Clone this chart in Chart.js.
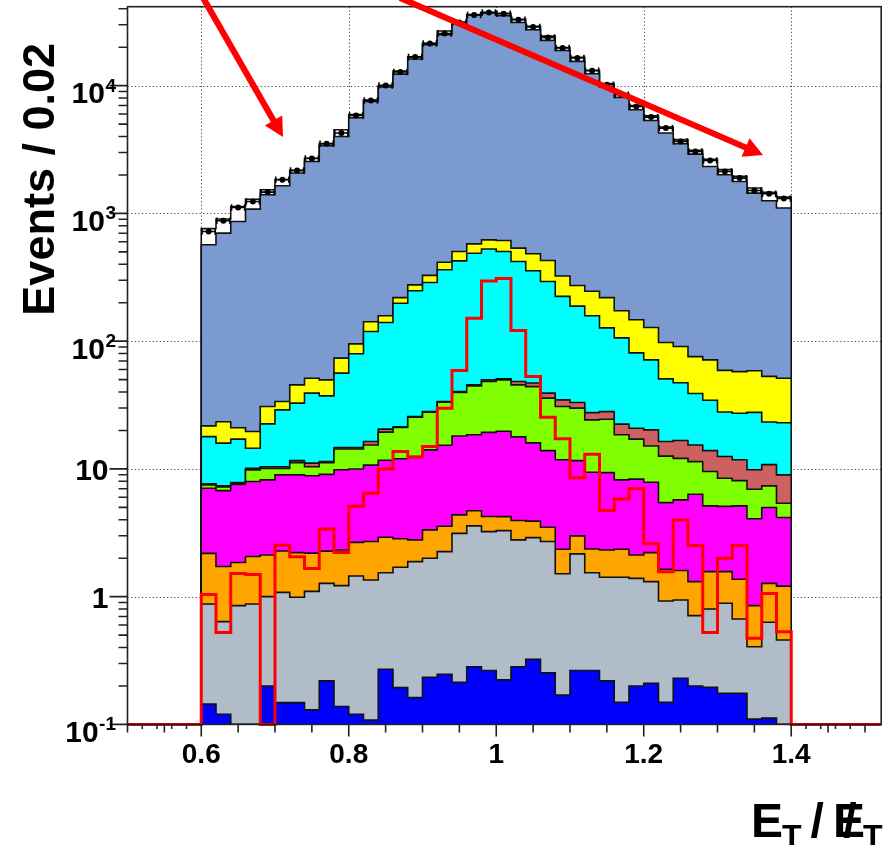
<!DOCTYPE html>
<html><head><meta charset="utf-8">
<script src="https://cdn.jsdelivr.net/npm/chart.js@4.4.1/dist/chart.umd.min.js"></script>
<style>html,body{margin:0;padding:0;background:#fff;}canvas{display:block;}</style>
</head><body>
<canvas id="c" width="888" height="845"></canvas>
<script>
// ---------------- data ----------------
const binEdges = [0.60,0.62,0.64,0.66,0.68,0.70,0.72,0.74,0.76,0.78,0.80,0.82,0.84,0.86,0.88,0.90,0.92,0.94,0.96,0.98,1.00,
                  1.02,1.04,1.06,1.08,1.10,1.12,1.14,1.16,1.18,1.20,1.22,1.24,1.26,1.28,1.30,1.32,1.34,1.36,1.38,1.40];
// cumulative stack tops, bottom layer first
const topBlue    = [0.144,0.120,0,0,0.200,0.148,0.148,0.130,0.219,0.138,0.120,0.108,0.270,0.194,0.162,0.234,0.247,0.214,0.283,0.264,
                    0.223,0.283,0.323,0.254,0.170,0.264,0.264,0.219,0.149,0.200,0.210,0.149,0.230,0.200,0.195,0.175,0.175,0.110,0.112,0];
const topGray    = [0.877,0.637,0.850,0.877,1.00,1.08,0.99,1.10,1.27,1.22,1.45,1.35,1.54,1.70,1.88,2.00,2.25,3.13,3.58,3.23,
                    3.29,2.78,2.90,2.70,1.51,2.16,1.54,1.42,1.42,1.39,1.31,0.925,0.942,0.710,0.801,0.888,0.669,0.405,0.631,0.458];
const topOrange  = [2.18,1.72,1.85,2.06,2.12,2.28,2.21,2.19,2.27,2.32,2.66,2.70,2.92,2.84,2.78,3.33,3.56,4.37,4.70,4.24,
                    4.23,3.95,3.90,3.49,2.35,2.99,2.36,2.32,2.35,2.12,2.21,1.64,1.60,1.31,1.57,1.57,1.37,0.851,1.27,1.21];
const topMagenta = [7.06,6.76,7.56,7.96,8.20,8.98,8.98,8.85,9.06,9.84,9.98,10.7,11.7,12.0,12.5,14.1,15.3,18.1,18.5,19.3,
                    19.7,17.8,16.0,13.9,11.8,11.6,9.42,9.35,8.20,8.31,7.87,5.45,5.72,6.34,5.14,5.09,5.14,4.07,4.99,4.16];
const topGreen   = [7.50,7.23,7.70,9.82,10.1,10.1,11.2,10.4,11.2,14.3,14.3,15.4,19.4,21.1,25.4,27.8,33.3,39.6,44.7,48.3,
                    49.8,45.5,44.1,35.8,30.8,29.9,24.2,24.5,18.5,17.1,15.1,12.6,12.1,11.4,9.53,8.46,8.10,6.93,7.36,5.39];
const topBrown   = [7.63,7.36,7.82,10.1,10.4,10.4,11.6,11.1,11.4,14.7,14.7,16.4,20.5,21.4,25.7,28.1,33.7,40.3,45.5,49.8,
                    50.7,48.3,47.0,39.2,34.7,33.1,27.6,28.1,22.4,20.8,20.2,16.4,16.7,15.4,13.9,12.5,11.8,9.84,10.8,8.98];
const topCyan    = [17.9,15.9,17.1,14.5,22.5,29.0,32.7,39.2,37.3,56.2,79.6,119,140,198,248,288,362,425,487,526,
                    503,420,356,293,224,188,158,127,106,81,71.4,50.7,47.2,38.9,34.5,27.9,27.3,27.7,23.3,23.0];
const topYellow  = [21.7,23.4,21.0,19.6,30.8,33.7,45.5,51.3,49.8,73.6,95.2,142,158,219,276,327,415,503,577,621,
                    614,535,483,428,324,273,246,219,173,147,128,97.5,90.8,75.7,71.4,59.1,57.7,58.7,53.0,51.3];
const topSteel   = [568,701,865,1081,1400,1645,2070,2549,3381,3997,5600,7516,9750,12300,16150,20900,25060,30900,35900,37000,
                    35250,31250,27400,22600,18870,15490,12390,9750,8090,6470,5340,4256,3510,2912,2328,2005,1778,1441,1256,1102];
const topWhite   = [760,905,1130,1290,1530,1840,2170,2700,3520,4520,5950,7700,10000,13000,16800,21500,26800,31500,36000,37600,
                    36800,33000,29200,24400,19900,16700,13200,10400,8600,7000,5800,4750,3780,3120,2650,2200,1950,1580,1460,1340];
const dataCounts = [722,875,1113,1240,1468,1834,2168,2692,3510,4256,5844,7660,10040,12780,16740,21400,25600,31250,35700,37400,
                    36560,32800,28770,23870,19690,16440,13080,10160,8490,6880,5676,4655,3660,3055,2596,2130,1890,1513,1424,1308];
const signal     = [1.04,0.523,1.52,1.49,0,2.53,2.05,1.66,3.39,2.22,5.11,6.46,10.0,13.7,12.4,15.0,29.9,58.9,151,296,
                    309,121,52.8,25.4,17.2,8.51,13.0,4.72,5.80,6.98,2.59,1.57,3.99,2.51,0.523,2.00,2.51,0.472,1.06,0.532];

const xTickVals   = [0.6,0.8,1.0,1.2,1.4];
const xTickLabels = ['0.6','0.8','1','1.2','1.4'];
const xMidTicks   = [0.5,0.55,0.65,0.7,0.75,0.85,0.9,0.95,1.05,1.1,1.15,1.25,1.3,1.35,1.45,1.5];
const xSmallTicks = [0.52,0.54,0.56,0.58,1.42,1.44,1.46,1.48];
const yTickVals   = [0.1,1,10,100,1000,10000];
const yTickBase   = ['10','1','10','10','10','10'];
const yTickExp    = ['-1','','','2','3','4'];
const yTitle = 'Events / 0.02';

const X_MIN = 0.5, X_MAX = 1.522, Y_MIN = 0.1, Y_MAX = 41500;
const FONT = '"Liberation Sans", Arial, Helvetica, sans-serif';

// ---------------- helpers ----------------
function stepPts(vals, outer) {
  const pts = [];
  if (outer) pts.push({x: X_MIN, y: Y_MIN});
  pts.push({x: binEdges[0], y: Y_MIN});
  vals.forEach((v, i) => pts.push({x: binEdges[i], y: v > 0 ? v : Y_MIN}));
  const n = vals.length, last = vals[n - 1] > 0 ? vals[n - 1] : Y_MIN;
  pts.push({x: binEdges[n], y: last});
  pts.push({x: binEdges[n], y: Y_MIN});
  if (outer) pts.push({x: X_MAX, y: Y_MIN});
  return pts;
}
function layer(vals, color) {
  return {type: 'line', data: stepPts(vals, false), stepped: 'before', fill: 'start',
          backgroundColor: color, borderColor: '#111', borderWidth: 1.6, pointRadius: 0};
}
const centers = dataCounts.map((v, i) => ({x: (binEdges[i] + binEdges[i + 1]) / 2, y: v}));

// ---------------- decoration plugin ----------------
const rootStyle = {
  id: 'rootStyle',
  beforeDatasetsDraw(chart) {
    const {ctx, chartArea: a, scales: {x, y}} = chart;
    ctx.save();
    ctx.strokeStyle = '#444'; ctx.lineWidth = 1; ctx.setLineDash([1.2, 2.4]);
    xTickVals.forEach(v => { const p = Math.round(x.getPixelForValue(v)) + 0.5;
      ctx.beginPath(); ctx.moveTo(p, a.top); ctx.lineTo(p, a.bottom); ctx.stroke(); });
    yTickVals.forEach(v => { const p = Math.round(y.getPixelForValue(v)) + 0.5;
      ctx.beginPath(); ctx.moveTo(a.left, p); ctx.lineTo(a.right, p); ctx.stroke(); });
    ctx.restore();
  },
  afterDatasetsDraw(chart) {
    const {ctx, chartArea: a, scales: {x, y}} = chart;
    ctx.save();
    // error bars of data
    ctx.strokeStyle = '#000'; ctx.lineWidth = 1.6;
    dataCounts.forEach((n, i) => {
      const xl = x.getPixelForValue(binEdges[i]), xr = x.getPixelForValue(binEdges[i + 1]);
      const yc = y.getPixelForValue(n), e = Math.sqrt(n);
      const yt = y.getPixelForValue(n + e), yb = y.getPixelForValue(n - e);
      ctx.beginPath();
      ctx.moveTo(xl, yc); ctx.lineTo(xr, yc);
      ctx.moveTo(xl + 0.8, yc - 3.2); ctx.lineTo(xl + 0.8, yc + 3.2);
      ctx.moveTo(xr - 0.8, yc - 3.2); ctx.lineTo(xr - 0.8, yc + 3.2);
      const xm = (xl + xr) / 2;
      ctx.moveTo(xm, yt); ctx.lineTo(xm, yb);
      ctx.stroke();
    });
    // frame
    ctx.strokeStyle = '#222'; ctx.lineWidth = 1.6;
    ctx.strokeRect(a.left, a.top, a.right - a.left, a.bottom - a.top);
    // y ticks
    ctx.beginPath();
    for (let d = -1; d <= 4; d++) {
      for (let k = 1; k <= 9; k++) {
        const v = k * Math.pow(10, d);
        if (v < Y_MIN || v > Y_MAX) continue;
        const p = y.getPixelForValue(v), len = k === 1 ? 18 : 9;
        ctx.moveTo(a.left, p); ctx.lineTo(a.left - len, p);
      }
    }
    // x ticks
    const xt = (v, len) => { const p = x.getPixelForValue(v); ctx.moveTo(p, a.bottom); ctx.lineTo(p, a.bottom + len); };
    xTickVals.forEach(v => xt(v, 12));
    xMidTicks.forEach(v => xt(v, 8));
    xSmallTicks.forEach(v => xt(v, 4.5));
    ctx.stroke();

    // x tick labels
    ctx.fillStyle = '#000'; ctx.textBaseline = 'alphabetic'; ctx.textAlign = 'center';
    ctx.font = 'bold 28px ' + FONT;
    xTickVals.forEach((v, i) => ctx.fillText(xTickLabels[i], x.getPixelForValue(v), 763));
    // y tick labels
    yTickVals.forEach((v, i) => {
      const p = y.getPixelForValue(v), base = yTickBase[i], ex = yTickExp[i];
      ctx.textAlign = 'left';
      if (ex) {
        ctx.font = 'bold 19px ' + FONT; const ew = ctx.measureText(ex).width;
        ctx.font = 'bold 30px ' + FONT; const bw = ctx.measureText(base).width;
        const sx = 116 - ew, bx = sx - bw - 0.5;
        ctx.fillText(base, bx, p + 17.5);
        ctx.font = 'bold 19px ' + FONT; ctx.fillText(ex, sx, p + 6);
      } else {
        ctx.font = 'bold 30px ' + FONT; const bw = ctx.measureText(base).width;
        ctx.fillText(base, 108.5 - bw, p + 11.5);
      }
    });
    // y title
    ctx.save();
    ctx.translate(54, 43); ctx.rotate(-Math.PI / 2);
    ctx.textAlign = 'right'; ctx.font = 'bold 45px ' + FONT;
    ctx.fillText(yTitle, 0, 0);
    ctx.restore();
    // x title  E_T / E(slash)_T
    ctx.textAlign = 'left';
    const big = 'bold 48px ' + FONT, sub = 'bold 32px ' + FONT;
    let cx = 751;
    ctx.font = big; ctx.fillText('E', cx, 837); cx += ctx.measureText('E').width - 1;
    ctx.font = sub; ctx.fillText('T', cx, 847); cx += ctx.measureText('T').width + 9;
    ctx.font = big; ctx.fillText('/', cx, 837); cx += ctx.measureText('/').width + 9;
    const eW = ctx.measureText('E').width, sW = ctx.measureText('/').width;
    ctx.fillText('E', cx, 837); ctx.fillText('/', cx + (eW - sW) / 2 + 1, 837); cx += eW - 2;
    ctx.font = sub; ctx.fillText('T', cx, 847);

    // red arrows (annotation)
    const arrow = (x0, y0, x1, y1) => {
      const dx = x1 - x0, dy = y1 - y0, L = Math.hypot(dx, dy), ux = dx / L, uy = dy / L;
      const hl = 19, hw = 10, bx = x1 - ux * hl, by = y1 - uy * hl;
      ctx.strokeStyle = '#ff0000'; ctx.fillStyle = '#ff0000'; ctx.lineWidth = 6.2; ctx.lineCap = 'butt';
      ctx.beginPath(); ctx.moveTo(x0, y0); ctx.lineTo(bx + ux * 2, by + uy * 2); ctx.stroke();
      ctx.beginPath(); ctx.moveTo(x1, y1);
      ctx.lineTo(bx - uy * hw, by + ux * hw); ctx.lineTo(bx + uy * hw, by - ux * hw); ctx.closePath(); ctx.fill();
    };
    arrow(202, -4, 283, 137);
    arrow(400, -2, 763, 155);
    ctx.restore();
  }
};

// ---------------- chart ----------------
new Chart(document.getElementById('c'), {
  type: 'line',
  data: {
    datasets: [
      {type: 'line', data: centers, showLine: false, pointRadius: 3, pointBackgroundColor: '#000',
       pointBorderColor: '#000', pointBorderWidth: 0},
      {type: 'line', data: stepPts(signal, true), stepped: 'before', fill: false, borderColor: '#ff0000',
       borderWidth: 3, pointRadius: 0, clip: 4},
      layer(topBlue, '#0000ff'),
      layer(topGray, '#b0bcc8'),
      layer(topOrange, '#ffa500'),
      layer(topMagenta, '#ff00ff'),
      layer(topGreen, '#80ff00'),
      layer(topBrown, '#cd6161'),
      layer(topCyan, '#00ffff'),
      layer(topYellow, '#ffff00'),
      layer(topSteel, '#7b9ad0'),
      layer(topWhite, '#ffffff')
    ]
  },
  options: {
    responsive: false, animation: false, devicePixelRatio: 1,
    layout: {padding: {left: 127.5, right: 6.8, top: 6.7, bottom: 120.6}},
    scales: {
      x: {type: 'linear', min: X_MIN, max: X_MAX, display: false},
      y: {type: 'logarithmic', min: Y_MIN, max: Y_MAX, display: false}
    },
    plugins: {legend: {display: false}, tooltip: {enabled: false}},
    elements: {line: {tension: 0}}
  },
  plugins: [rootStyle]
});
</script>
</body></html>
